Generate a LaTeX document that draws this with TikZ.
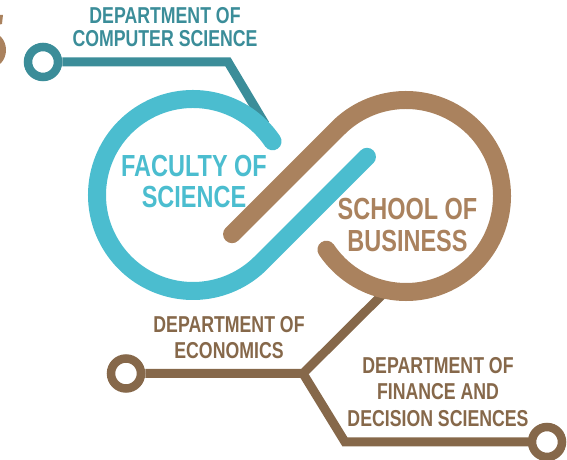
\documentclass[tikz,border=0pt]{standalone}
\usepackage{fontspec}
\newfontfamily\narrowfont[FakeStretch=0.77]{Liberation Sans}
\usetikzlibrary{calc}

\definecolor{sciblue}{HTML}{4BBDCF}
\definecolor{bizbrown}{HTML}{AA825E}
\definecolor{sciteal}{HTML}{3B8D99}
\definecolor{bizdark}{HTML}{86684A}

\begin{document}
\begin{tikzpicture}[x=1pt, y=1pt,
    band/.style={line width=18pt, line cap=round},
    link/.style={line width=9pt, line join=miter},
    ring/.style={circle, line width=8.5pt, minimum size=30pt, inner sep=0pt, fill=white},
    depttext/.style={font=\narrowfont\bfseries\fontsize{23}{26.5}\selectfont, align=center, inner sep=0pt},
    unittext/.style={font=\narrowfont\bfseries\fontsize{30.5}{31.5}\selectfont, align=center, inner sep=0pt}]
        \useasboundingbox (0,0) rectangle (567,460);

        % Ucięty fragment przy lewej krawędzi
        \fill[bizbrown] (-6,445) -- (3,445) -- (2,436) -- (-6,434) -- cycle;
        \fill[bizbrown] (-10,410) ellipse [x radius=16, y radius=18];

        % Środki pętli
        \coordinate (sci) at (193,265);
        \coordinate (biz) at (406,264);

        % Połączenie: informatyka
        \node[ring, draw=sciteal] (csring) at (43,398) {};
        \coordinate (cscorner) at (228,398);
        \coordinate (csend) at (265,336);
        \draw[link, sciteal] (csring.east) -- (cscorner) -- (csend);

        % Połączenia: ekonomia, finanse
        \node[ring, draw=bizdark] (ecoring) at (126,86.5) {};
        \node[ring, draw=bizdark] (finring) at (547,18) {};
        \coordinate (fork) at (303,86.5);
        \coordinate (fincorner) at (345,18);
        \coordinate (bizend) at (390,173);
        \draw[link, bizdark] (ecoring.east) -- (fork) -- (bizend);
        \draw[link, bizdark] (fork) -- (fincorner) -- (finring.west);

        % Pętle
        \draw[band, sciblue] ($(sci)+(34:96)$) arc[start angle=34, end angle=315, radius=96] -- ++(45:150);
        \draw[band, bizbrown] ($(biz)+(214:96)$) arc[start angle=214, end angle=495, radius=96] -- ++(225:150);

        % Napisy
        \node[depttext, text=sciteal, font=\narrowfont\bfseries\fontsize{23}{23}\selectfont] (cstext) at (165,433) {DEPARTMENT OF\\COMPUTER SCIENCE};
        \node[unittext, text=sciblue] (scitext) at (194,278.5) {FACULTY OF\\SCIENCE};
        \node[unittext, text=bizbrown] (biztext) at (407.5,235) {SCHOOL OF\\BUSINESS};
        \node[depttext, text=bizdark] (ecotext) at (229,122.5) {DEPARTMENT OF\\ECONOMICS};
        \node[depttext, text=bizdark] (fintext) at (438,68) {DEPARTMENT OF\\FINANCE AND\\DECISION SCIENCES};
    \end{tikzpicture}
\end{document}
